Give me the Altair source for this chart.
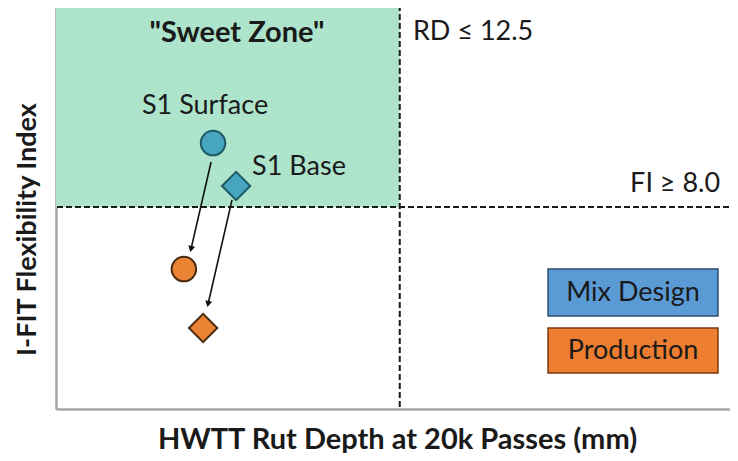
import altair as alt
import pandas as pd

# thresholds
RD_LIMIT = 12.5
FI_LIMIT = 8.0
X_MAX = 24.8
Y_MAX = 16.0

# points
pt_names = ["S1 Surface MD", "S1 Base MD", "S1 Surface PR", "S1 Base PR"]
pt_x = [5.71, 6.55, 4.65, 5.35]
pt_y = [10.53, 8.83, 5.54, 3.21]
pt_shape = ["circle", "diamond", "circle", "diamond"]
pt_group = ["Mix Design", "Mix Design", "Production", "Production"]

# arrows (start -> end)
ar_x = [5.64, 6.40]
ar_y = [9.78, 8.28]
ar_x2 = [4.91, 5.53]
ar_y2 = [6.34, 4.16]
ar_angle = [13, 13]

# annotations
lab_text = ["S1 Surface", "S1 Base", "RD \u2264 12.5", "FI \u2265 8.0"]
lab_x = [5.42, 7.13, 12.98, 24.15]
lab_y = [12.0, 9.58, 14.93, 8.91]
lab_align = ["center", "left", "left", "right"]

legend_labels = ["Mix Design", "Production"]
group_colors = ["#47a5c0", "#ea8434"]
group_strokes = ["#1e5a66", "#4a2a10"]

FONT = "Lato"
TXT = "#1a1a1a"

xs = alt.Scale(domain=[0, X_MAX], nice=False, zero=False)
ys = alt.Scale(domain=[0, Y_MAX], nice=False, zero=False)

points = pd.DataFrame({"name": pt_names, "x": pt_x, "y": pt_y,
                       "shape": pt_shape, "group": pt_group})
arrows = pd.DataFrame({"x": ar_x, "y": ar_y, "x2": ar_x2, "y2": ar_y2, "angle": ar_angle})
labels = pd.DataFrame({"text": lab_text, "x": lab_x, "y": lab_y, "align": lab_align})

base_x = alt.X("x:Q", scale=xs, axis=alt.Axis(
    title="HWTT Rut Depth at 20k Passes (mm)", labels=False, ticks=False, grid=False,
    domainColor="#a6a6a6", domainWidth=2.5,
    titleFont=FONT, titleFontSize=29, titleFontWeight="bold", titleColor=TXT,
    titleX=341, titleY=30, titleBaseline="middle", titleAnchor="middle"))
base_y = alt.Y("y:Q", scale=ys, axis=alt.Axis(
    title="I-FIT Flexibility Index", labels=False, ticks=False, grid=False,
    domainColor="#a6a6a6", domainWidth=2.5,
    titleFont=FONT, titleFontSize=27, titleFontWeight="bold", titleColor=TXT,
    titleX=-29, titleY=224, titleBaseline="middle", titleAngle=-90))

zone = alt.Chart(pd.DataFrame({"x": [0.0], "x2": [RD_LIMIT], "y": [FI_LIMIT], "y2": [Y_MAX]})).mark_rect(
    color="#ade4cb").encode(x=base_x, x2="x2:Q", y=base_y, y2="y2:Q")

top_rule = alt.Chart(pd.DataFrame({"y": [Y_MAX]})).mark_rule(
    color="#a6a6a6", strokeWidth=2.5).encode(y=alt.Y("y:Q", scale=ys))

vline = alt.Chart(pd.DataFrame({"x": [RD_LIMIT]})).mark_rule(
    color="#1a1a1a", strokeWidth=2, strokeDash=[6, 3]).encode(x=alt.X("x:Q", scale=xs))
hline = alt.Chart(pd.DataFrame({"y": [FI_LIMIT]})).mark_rule(
    color="#1a1a1a", strokeWidth=2, strokeDash=[6, 3]).encode(y=alt.Y("y:Q", scale=ys))

arrow_lines = alt.Chart(arrows).mark_rule(color="#111111", strokeWidth=1.6).encode(
    x=alt.X("x:Q", scale=xs), y=alt.Y("y:Q", scale=ys), x2="x2:Q", y2="y2:Q")
arrow_heads = alt.Chart(arrows).mark_point(
    shape="triangle-down", filled=True, color="#111111", size=50, opacity=1).encode(
    x=alt.X("x2:Q", scale=xs), y=alt.Y("y2:Q", scale=ys), angle=alt.Angle("angle:Q", scale=None))

pts = alt.Chart(points).mark_point(filled=True, opacity=1, strokeWidth=2).encode(
    x=alt.X("x:Q", scale=xs), y=alt.Y("y:Q", scale=ys),
    shape=alt.Shape("shape:N", scale=None, legend=None),
    fill=alt.Fill("group:N", scale=alt.Scale(domain=legend_labels, range=group_colors), legend=None),
    stroke=alt.Stroke("group:N", scale=alt.Scale(domain=legend_labels, range=group_strokes), legend=None),
    size=alt.Size("shape:N", scale=alt.Scale(domain=["circle", "diamond"], range=[600, 800]), legend=None),
)

txt_layers = []
for a in ["center", "left", "right"]:
    txt_layers.append(
        alt.Chart(labels[labels["align"] == a]).mark_text(
            font=FONT, fontSize=27, color=TXT, align=a, baseline="middle").encode(
            x=alt.X("x:Q", scale=xs), y=alt.Y("y:Q", scale=ys), text="text:N"))

sweet = alt.Chart(pd.DataFrame({"t": ['"Sweet Zone"']})).mark_text(
    font=FONT, fontSize=29, fontWeight="bold", color=TXT, align="center", baseline="middle").encode(
    x=alt.value(181), y=alt.value(28), text="t:N")

leg_md_box = alt.Chart(pd.DataFrame({"t": [legend_labels[0]]})).mark_rect(
    fill="#5b9bd5", stroke="#2f4f6f", strokeWidth=1.5).encode(
    x=alt.value(492), x2=alt.value(662), y=alt.value(264), y2=alt.value(311))
leg_pr_box = alt.Chart(pd.DataFrame({"t": [legend_labels[1]]})).mark_rect(
    fill="#ed7d31", stroke="#7a3d10", strokeWidth=1.5).encode(
    x=alt.value(492), x2=alt.value(662), y=alt.value(323), y2=alt.value(368))
leg_md_txt = alt.Chart(pd.DataFrame({"t": [legend_labels[0]]})).mark_text(
    font=FONT, fontSize=27, color=TXT, align="center", baseline="middle").encode(
    x=alt.value(577), y=alt.value(288), text="t:N")
leg_pr_txt = alt.Chart(pd.DataFrame({"t": [legend_labels[1]]})).mark_text(
    font=FONT, fontSize=27, color=TXT, align="center", baseline="middle").encode(
    x=alt.value(577), y=alt.value(346), text="t:N")

chart = alt.layer(
    zone, top_rule, vline, hline, arrow_lines, arrow_heads, pts,
    *txt_layers, sweet, leg_md_box, leg_pr_box, leg_md_txt, leg_pr_txt
).properties(
    width=682, height=404,
    autosize=alt.AutoSizeParams(type="none"),
    padding={"left": 48, "top": -3, "right": -8, "bottom": 44},
).configure_view(stroke=None).configure(background="white")

chart.save("out.html", embed_options={"renderer": "svg", "actions": False})
